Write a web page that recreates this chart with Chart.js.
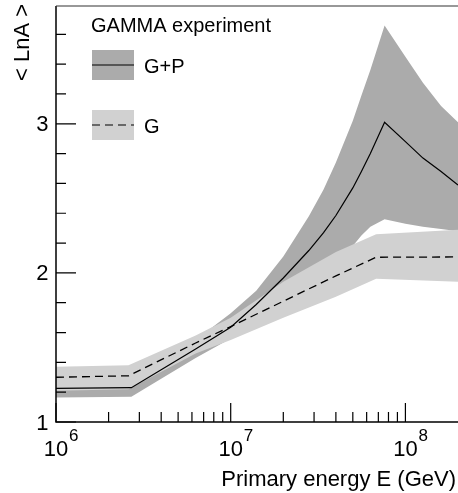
<!DOCTYPE html>
<html>
<head>
<meta charset="utf-8">
<script src="https://cdn.jsdelivr.net/npm/chart.js"></script>
<style>
  body { margin: 0; background: #fff; }
  canvas { display: block; }
</style>
</head>
<body>
<canvas id="chart" width="458" height="493"></canvas>
<script>
// primary energy (GeV) and <lnA> for the G+P fit
const gpEnergy = [1e6, 2.7e6, 4e6, 6.3e6, 1e7, 1.4e7, 2e7, 2.8e7, 3.4e7, 4e7, 5e7, 5.6e7, 6.3e7, 7.6e7, 1e8, 1.26e8, 1.6e8, 2e8];
const gpMean  = [1.225, 1.23, 1.35, 1.49, 1.635, 1.788, 1.966, 2.15, 2.27, 2.385, 2.57, 2.68, 2.80, 3.01, 2.88, 2.77, 2.68, 2.59];
const gpUpper = [1.285, 1.29, 1.40, 1.55, 1.73, 1.88, 2.11, 2.38, 2.56, 2.74, 3.02, 3.19, 3.36, 3.66, 3.45, 3.275, 3.12, 3.01];
const gpLower = [1.165, 1.17, 1.29, 1.43, 1.56, 1.67, 1.79, 1.91, 1.99, 2.06, 2.18, 2.25, 2.31, 2.36, 2.33, 2.31, 2.295, 2.28];

// G only
const gEnergy = [1e6, 2.6e6, 6.3e6, 1e7, 2e7, 4e7, 6.8e7, 2e8];
const gMean  = [1.30, 1.31, 1.53, 1.64, 1.81, 1.98, 2.105, 2.107];
const gUpper = [1.37, 1.38, 1.58, 1.70, 1.94, 2.14, 2.26, 2.29];
const gLower = [1.21, 1.22, 1.46, 1.55, 1.70, 1.84, 1.96, 1.94];

// axes
const xTickExp = [6, 7, 8];
const xMinorMult = [2, 3, 4, 5, 6, 7, 8, 9];
const yTickLabels = [1, 2, 3];
const yMinorStep = 0.2;

const darkGrey = '#ababab';
const lightGrey = '#d1d1d1';
const FONT = '"Liberation Sans", Arial, sans-serif';

function pts(xs, ys) {
  return xs.map((x, i) => ({ x: x, y: ys[i] }));
}

const frame = {
  id: 'frame',
  afterDraw(chart) {
    const ctx = chart.ctx;
    const a = chart.chartArea;
    const xs = chart.scales.x, ys = chart.scales.y;
    ctx.save();

    // axes box
    ctx.strokeStyle = '#000';
    ctx.lineWidth = 1.5;
    ctx.beginPath();
    ctx.moveTo(a.left, a.top);
    ctx.lineTo(a.left, a.bottom);
    ctx.lineTo(a.right, a.bottom);
    ctx.stroke();
    ctx.strokeStyle = '#333';
    ctx.lineWidth = 1.2;
    ctx.beginPath();
    ctx.moveTo(a.left, a.top);
    ctx.lineTo(a.right, a.top);
    ctx.stroke();

    // x ticks, pointing inward
    ctx.strokeStyle = '#000';
    ctx.lineWidth = 1.2;
    ctx.beginPath();
    xTickExp.forEach(e => {
      const dec = Math.pow(10, e);
      const px = xs.getPixelForValue(dec);
      ctx.moveTo(px, a.bottom);
      ctx.lineTo(px, a.bottom - 19);
      xMinorMult.forEach(m => {
        const v = m * dec;
        if (v >= xs.max) return;
        const p = xs.getPixelForValue(v);
        ctx.moveTo(p, a.bottom);
        ctx.lineTo(p, a.bottom - 10);
      });
    });
    // y ticks
    for (let v = ys.min; v <= ys.max + 1e-9; v += yMinorStep) {
      const r = Math.round(v * 10) / 10;
      const py = ys.getPixelForValue(r);
      const major = Math.abs(r - Math.round(r)) < 1e-6;
      ctx.moveTo(a.left, py);
      ctx.lineTo(a.left + (major ? 20 : 10), py);
    }
    ctx.stroke();

    // tick labels
    ctx.fillStyle = '#000';
    ctx.font = '22px ' + FONT;
    ctx.textAlign = 'right';
    ctx.textBaseline = 'middle';
    yTickLabels.forEach(v => {
      ctx.fillText(String(v), 48.5, ys.getPixelForValue(v) + (v === 1 ? 2 : 1));
    });
    ctx.textBaseline = 'alphabetic';
    xTickExp.forEach(e => {
      const px = xs.getPixelForValue(Math.pow(10, e));
      ctx.font = '22px ' + FONT;
      ctx.textAlign = 'center';
      ctx.fillText('10', px, 456);
      ctx.font = '17px ' + FONT;
      ctx.textAlign = 'left';
      ctx.fillText(String(e), px + 13, 441);
    });

    // axis titles
    ctx.font = '22px ' + FONT;
    ctx.textAlign = 'right';
    ctx.fillText('Primary energy E (GeV)', 456, 486);
    ctx.save();
    ctx.translate(28.5, 42.5);
    ctx.rotate(-Math.PI / 2);
    ctx.textAlign = 'center';
    ctx.fillText('< LnA >', 0, 0);
    ctx.restore();

    // legend
    ctx.font = '20px ' + FONT;
    ctx.textAlign = 'left';
    ctx.fillText('GAMMA experiment', 91, 32);
    ctx.fillStyle = darkGrey;
    ctx.fillRect(92, 50, 42, 30);
    ctx.fillStyle = lightGrey;
    ctx.fillRect(92, 110, 42, 30);
    ctx.strokeStyle = '#000';
    ctx.lineWidth = 1.2;
    ctx.beginPath();
    ctx.moveTo(92, 65);
    ctx.lineTo(134, 65);
    ctx.stroke();
    ctx.setLineDash([8, 5]);
    ctx.beginPath();
    ctx.moveTo(92, 125);
    ctx.lineTo(134, 125);
    ctx.stroke();
    ctx.setLineDash([]);
    ctx.fillStyle = '#000';
    ctx.fillText('G+P', 144, 72.5);
    ctx.fillText('G', 144, 132.5);

    ctx.restore();
  }
};

new Chart(document.getElementById('chart'), {
  type: 'line',
  data: {
    datasets: [
      { data: pts(gpEnergy, gpUpper), fill: '+1', backgroundColor: darkGrey, borderWidth: 0, pointRadius: 0, order: 3 },
      { data: pts(gpEnergy, gpLower), fill: false, borderWidth: 0, pointRadius: 0, order: 3 },
      { data: pts(gEnergy, gUpper), fill: '+1', backgroundColor: lightGrey, borderWidth: 0, pointRadius: 0, order: 2 },
      { data: pts(gEnergy, gLower), fill: false, borderWidth: 0, pointRadius: 0, order: 2 },
      { label: 'G', data: pts(gEnergy, gMean), fill: false, borderColor: '#000', borderWidth: 1.3,
        borderDash: [8, 5], pointRadius: 0, order: 1 },
      { label: 'G+P', data: pts(gpEnergy, gpMean), fill: false, borderColor: '#000', borderWidth: 1.2,
        pointRadius: 0, order: 0 }
    ]
  },
  options: {
    responsive: false,
    animation: false,
    layout: { padding: { left: 56, top: 6, right: 0, bottom: 71 } },
    plugins: {
      legend: { display: false },
      tooltip: { enabled: false }
    },
    scales: {
      x: { type: 'logarithmic', min: 1e6, max: 2e8, display: false },
      y: { type: 'linear', min: 1, max: 3.79, display: false }
    }
  },
  plugins: [frame]
});
</script>
</body>
</html>
